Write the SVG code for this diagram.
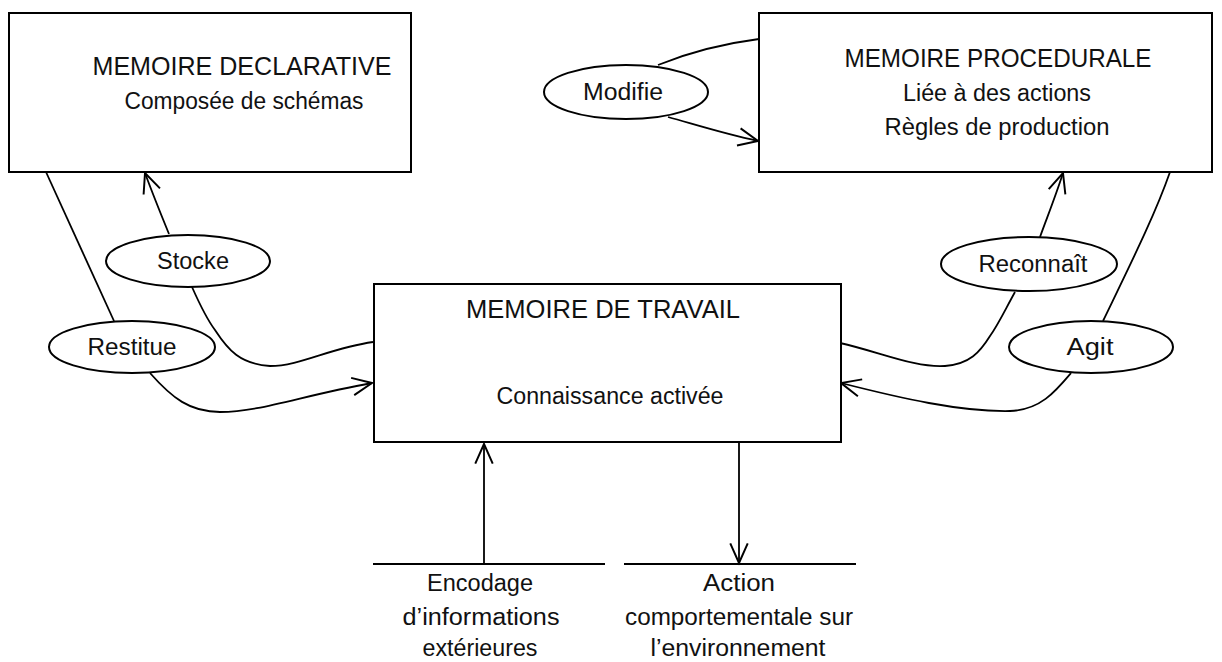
<svg xmlns="http://www.w3.org/2000/svg" width="1222" height="662" viewBox="0 0 1222 662">
<style>
.box{fill:#fff;stroke:#000;stroke-width:2}
.ell{fill:#fff;stroke:#000;stroke-width:2}
.c{fill:none;stroke:#000;stroke-width:1.8;stroke-linejoin:round}
text{font-family:"Liberation Sans",Arial,sans-serif;font-size:23px;fill:#111;text-anchor:middle}
.t{font-size:25px}
</style>
<defs>
<marker id="ah" markerUnits="userSpaceOnUse" markerWidth="24" markerHeight="24" viewBox="-20 -10 22 20" refX="0" refY="0" orient="auto" overflow="visible">
<path d="M-18,-8 L0,0 L-18,8" fill="none" stroke="#000" stroke-width="1.8"/>
</marker>
</defs>
<g id="connectors">
<path class="c" d="M46,172 L114,321"/>
<path class="c" d="M150,373 C172,398 190,412 220,412 C260,412 300,396 372,383" marker-end="url(#ah)"/>
<path class="c" d="M169,234 C160,212 152,192 145,173" marker-end="url(#ah)"/>
<path class="c" d="M192,287 C200,305 206,318 215,330 C228,350 240,364 270,366 C300,366 330,348 373,342"/>
<path class="c" d="M1040,237 C1048,215 1056,195 1063,173" marker-end="url(#ah)"/>
<path class="c" d="M1015,292 C1005,310 998,325 990,336 C980,352 970,364 945,366 C915,368 880,352 840,343"/>
<path class="c" d="M1103,321 C1130,265 1155,215 1170,172"/>
<path class="c" d="M1071,373 C1055,392 1040,410 1010,411 C960,412 900,398 841,383" marker-end="url(#ah)"/>
<path class="c" d="M658,65 C690,52 720,44 759,39"/>
<path class="c" d="M668,117 C700,126 725,134 758,141" marker-end="url(#ah)"/>
<path class="c" d="M484,564 L484,444" marker-end="url(#ah)"/>
<path class="c" d="M739,443 L739,563" marker-end="url(#ah)"/>
<path class="c" d="M373,564 L605,564"/>
<path class="c" d="M624,564 L856,564"/>
</g>
<g id="declarative">
<rect class="box" x="9" y="13" width="402" height="159"/>
<text class="t" x="242" y="75" textLength="299" lengthAdjust="spacingAndGlyphs">MEMOIRE DECLARATIVE</text>
<text x="244" y="109" textLength="239" lengthAdjust="spacingAndGlyphs">Composée de schémas</text>
</g>
<g id="procedurale">
<rect class="box" x="759" y="13" width="453" height="159"/>
<text class="t" x="998" y="67" textLength="307" lengthAdjust="spacingAndGlyphs">MEMOIRE PROCEDURALE</text>
<text x="997" y="101" textLength="188" lengthAdjust="spacingAndGlyphs">Liée à des actions</text>
<text x="997" y="135" textLength="225" lengthAdjust="spacingAndGlyphs">Règles de production</text>
</g>
<g id="travail">
<rect class="box" x="374" y="284" width="467" height="158"/>
<text class="t" x="603" y="318" textLength="274" lengthAdjust="spacingAndGlyphs">MEMOIRE DE TRAVAIL</text>
<text x="610" y="404" textLength="227" lengthAdjust="spacingAndGlyphs">Connaissance activée</text>
</g>
<g id="stocke">
<ellipse class="ell" cx="188" cy="261" rx="82" ry="26"/>
<text x="193" y="269" textLength="72" lengthAdjust="spacingAndGlyphs">Stocke</text>
</g>
<g id="restitue">
<ellipse class="ell" cx="132" cy="347" rx="83" ry="26"/>
<text x="132" y="355" textLength="89" lengthAdjust="spacingAndGlyphs">Restitue</text>
</g>
<g id="modifie">
<ellipse class="ell" cx="626" cy="92" rx="82" ry="27"/>
<text x="623" y="100" textLength="80" lengthAdjust="spacingAndGlyphs">Modifie</text>
</g>
<g id="reconnait">
<ellipse class="ell" cx="1029" cy="264" rx="88" ry="27"/>
<text x="1033" y="272" textLength="109" lengthAdjust="spacingAndGlyphs">Reconnaît</text>
</g>
<g id="agit">
<ellipse class="ell" cx="1091" cy="347" rx="82" ry="26"/>
<text x="1090" y="355" textLength="47" lengthAdjust="spacingAndGlyphs">Agit</text>
</g>
<g id="encodage">
<text x="480" y="591" textLength="106" lengthAdjust="spacingAndGlyphs">Encodage</text>
<text x="481" y="625" textLength="157" lengthAdjust="spacingAndGlyphs">d’informations</text>
<text x="480" y="656" textLength="115" lengthAdjust="spacingAndGlyphs">extérieures</text>
</g>
<g id="action">
<text x="739" y="591" textLength="72" lengthAdjust="spacingAndGlyphs">Action</text>
<text x="739" y="625" textLength="228" lengthAdjust="spacingAndGlyphs">comportementale sur</text>
<text x="738" y="656" textLength="175" lengthAdjust="spacingAndGlyphs">l’environnement</text>
</g>
</svg>
